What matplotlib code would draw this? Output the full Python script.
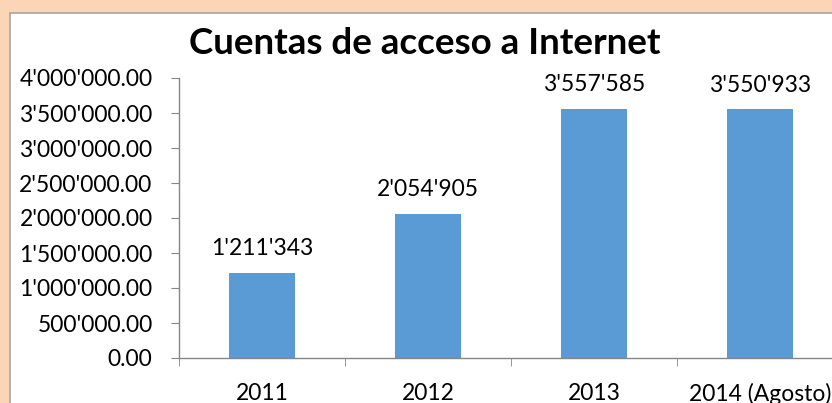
import matplotlib
matplotlib.use("Agg")
import matplotlib.pyplot as plt
from matplotlib.patches import Rectangle
from matplotlib.ticker import FuncFormatter
import numpy as np

# Data
CATEGORIES = ["2011", "2012", "2013", "2014 (Agosto)"]
ACCOUNTS = [1211343, 2054905, 3557585, 3550933]
TITLE = "Cuentas de acceso a Internet"

PEACH = "#FBD5B5"
BAR_BLUE = "#5B9BD5"
AXIS_GREY = "#868686"

plt.rcParams["font.family"] = ["Lato", "DejaVu Sans"]

W, H = 832, 403
fig = plt.figure(figsize=(W / 100, H / 100), dpi=100, facecolor=PEACH)

# white chart panel (cropped on the right and bottom)
panel = Rectangle((10 / W, -0.05), 1.0, (H - 13) / H + 0.05,
                  transform=fig.transFigure, facecolor="white",
                  edgecolor="#A6A6A6", linewidth=1.2, zorder=-1)
fig.patches.append(panel)

# axes extend past the right edge, like the original crop
ax = fig.add_axes([179 / W, (H - 358) / H, (843 - 179) / W, (358 - 78) / H])
ax.set_facecolor("none")

def thousands(v):
    return f"{int(round(v)):,}".replace(",", "'")

x = np.arange(len(CATEGORIES))
bars = ax.bar(x, ACCOUNTS, width=0.40, color=BAR_BLUE, zorder=2)

for b, v in zip(bars, ACCOUNTS):
    ax.annotate(thousands(v), (b.get_x() + b.get_width() / 2, v),
                xytext=(0, 10), textcoords="offset points",
                ha="center", va="bottom", fontsize=16.5)

ax.set_xlim(-0.5, len(CATEGORIES) - 0.5)
ax.set_ylim(0, 4000000)
ax.set_yticks(np.arange(0, 4000001, 500000))
ax.yaxis.set_major_formatter(FuncFormatter(lambda v, p: thousands(v) + ".00"))

ax.set_xticks(x)
ax.set_xticklabels(CATEGORIES)
ax.set_xticks(np.arange(-0.5, len(CATEGORIES)), minor=True)
ax.tick_params(axis="x", which="major", length=0, pad=18, labelsize=16.5)
ax.tick_params(axis="x", which="minor", length=6, color=AXIS_GREY, direction="out")
ax.tick_params(axis="y", length=6, color=AXIS_GREY, pad=13, labelsize=16.5)

for side in ["top", "right"]:
    ax.spines[side].set_visible(False)
for side in ["left", "bottom"]:
    ax.spines[side].set_color(AXIS_GREY)
    ax.spines[side].set_linewidth(1.0)

fig.text(425 / W, 1 - 44 / H, TITLE, ha="center", va="center",
         fontsize=26.5, fontweight="bold")

fig.savefig("out.png", dpi=100, facecolor=PEACH)
